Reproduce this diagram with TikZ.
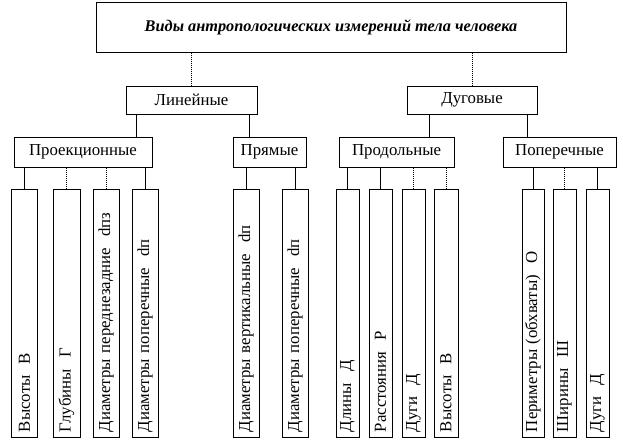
\documentclass[tikz,border=0pt]{standalone}
\usepackage{fontspec}
\setmainfont{Liberation Serif}
\usetikzlibrary{positioning,calc}
\tikzset{
	box/.style={
		rectangle, draw=black, line width=1pt, inner sep=0pt,
		font=\fontsize{16.8}{19}\selectfont
	},
	%
	leaf/.style={
		box, rotate=90, minimum height=#1, text width=238pt,
		align=left, inner xsep=5pt
	},
	%
	link/.style={line width=1pt},
	%
	dotlink/.style={line width=1pt, densely dotted}
}

\begin{document}
\begin{tikzpicture}[x=1pt,y=-1pt]
\useasboundingbox (0,0) rectangle (623,440);
%boxes
\node (T) [box, minimum width=470pt, minimum height=50pt,
  font=\fontsize{16.3}{19}\selectfont\bfseries\itshape] at (331,27)
  {Виды антропологических измерений тела человека};
\node (L) [box, minimum width=131pt, minimum height=28pt] at (191.5,100) {Линейные};
\node (D) [box, minimum width=130pt, minimum height=28pt] at (472,100) {Дуговые};

\node (Pj) [box, minimum width=138pt, minimum height=30pt] at (83,152) {Проекционные};
\node (Pm) [box, minimum width=73pt, minimum height=30pt] at (269.5,152) {Прямые};
\node (Pd) [box, minimum width=115pt, minimum height=30pt] at (396.5,152) {Продольные};
\node (Pp) [box, minimum width=113pt, minimum height=30pt] at (559.5,152) {Поперечные};

\node (a1) [leaf=26pt] at (24.5,313) {Высоты~~В};
\node (a2) [leaf=27pt] at (66.5,313) {Глубины~~Г};
\node (a3) [leaf=26pt] at (106,313) {Диаметры переднезадние~~dпз};
\node (a4) [leaf=26pt] at (145,313) {Диаметры поперечные~~dп};

\node (b1) [leaf=26pt] at (246,313) {Диаметры вертикальные~~dп};
\node (b2) [leaf=26pt] at (295,313) {Диаметры поперечные~~dп};

\node (c1) [leaf=23pt] at (347.5,313) {Длины~~Д};
\node (c2) [leaf=23pt] at (380.5,313) {Расстояния~~Р};
\node (c3) [leaf=23pt] at (413.5,313) {Дуги~~Д};
\node (c4) [leaf=24pt] at (446,313) {Высоты~~В};

\node (d1) [leaf=22pt] at (533,313) {Периметры (обхваты)~~О};
\node (d2) [leaf=23pt] at (564.5,313) {Ширины~~Ш};
\node (d3) [leaf=23pt] at (597.5,313) {Дуги~~Д};

%lines
\draw[dotlink] (T.south -| L.north) -- (L.north);
\draw[dotlink] (T.south -| D.north) -- (D.north);

\coordinate (LPj) at ($(Pj.north)+(53,0)$);
\coordinate (LPm) at ($(Pm.north)+(-20.5,0)$);
\coordinate (DPd) at ($(Pd.north)+(32.5,0)$);
\coordinate (DPp) at ($(Pp.north)+(-32.5,0)$);
\draw[link] (LPj) -- (LPj |- L.south);
\draw[link] (LPm) -- (LPm |- L.south);
\draw[link] (DPd) -- (DPd |- D.south);
\draw[link] (DPp) -- (DPp |- D.south);

\draw[link] (a1.east) -- (a1.east |- Pj.south);
\draw[dotlink] (a2.east) -- (a2.east |- Pj.south);
\draw[dotlink] (a3.east) -- (a3.east |- Pj.south);
\draw[link] (a4.east) -- (a4.east |- Pj.south);

\draw[link] (b1.east) -- (b1.east |- Pm.south);
\draw[link] (b2.east) -- (b2.east |- Pm.south);

\draw[link] (c1.east) -- (c1.east |- Pd.south);
\draw[link] (c2.east) -- (c2.east |- Pd.south);
\draw[dotlink] (c3.east) -- (c3.east |- Pd.south);
\draw[dotlink] (c4.east) -- (c4.east |- Pd.south);

\draw[link] (d1.east) -- (d1.east |- Pp.south);
\draw[dotlink] (d2.east) -- (d2.east |- Pp.south);
\draw[link] (d3.east) -- (d3.east |- Pp.south);

\end{tikzpicture}
\end{document}
